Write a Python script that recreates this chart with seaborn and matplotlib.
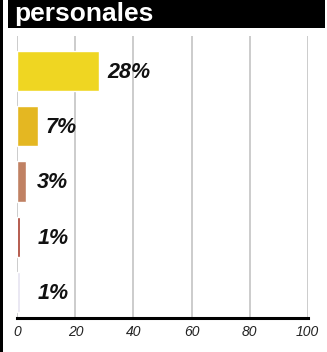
import matplotlib
matplotlib.use("Agg")
import matplotlib.pyplot as plt
import seaborn as sns
import pandas as pd
from matplotlib.patches import Rectangle
from matplotlib import font_manager as fm

categories = ["A", "B", "C", "D", "E"]
values = [28, 7, 3, 1, 1]
labels = ["28%", "7%", "3%", "1%", "1%"]
colors = ["#efd622", "#e4b722", "#c08163", "#a63a2a", "#e5e3f1"]
xticks = [0, 20, 40, 60, 80, 100]
title = "personales"

sns.set_theme(style="white")
names = {f.name for f in fm.fontManager.ttflist}
narrow = "Liberation Sans Narrow" if "Liberation Sans Narrow" in names else "Liberation Sans"
plt.rcParams["font.family"] = [narrow, "DejaVu Sans"]

df = pd.DataFrame({"cat": categories, "val": values})

fig = plt.figure(figsize=(3.27, 3.52), dpi=100)
ax = fig.add_axes([0.053, 0.0966, 0.888, 0.8014])
sns.barplot(data=df, y="cat", x="val", hue="cat", palette=colors, legend=False,
            width=0.727, ax=ax, saturation=1)

ax.set_xlim(0, 100)
ax.set_ylim(4.47, -0.636)
ax.set_xticks(xticks)
ax.set_xticklabels([str(t) for t in xticks], fontstyle="italic", fontsize=10, color="#222222")
ax.set_yticks([])
ax.set_xlabel("")
ax.set_ylabel("")
ax.tick_params(axis="x", length=0, pad=5)
for t in xticks:
    ax.axvline(t, color="#c8c8c8", lw=1.3, zorder=0)
for s in ["top", "right", "left"]:
    ax.spines[s].set_visible(False)
ax.spines["bottom"].set_color("black")
ax.spines["bottom"].set_linewidth(2.2)

for i, (v, lab) in enumerate(zip(values, labels)):
    ax.annotate(lab, xy=(max(v, 4), i), xytext=(6, -1), textcoords="offset points",
                ha="left", va="center", fontsize=15.5, fontweight="bold",
                fontstyle="italic", color="#111111")

# title bar
fig.patches.append(Rectangle((8/327, 1 - 28/352), (325-8)/327, 28/352,
                             transform=fig.transFigure, facecolor="black",
                             edgecolor="none", zorder=5))
fig.text(14/327, 1 - 21/352, title, color="white", fontsize=19, fontweight="bold",
         ha="left", va="baseline", zorder=6)
# left border
fig.patches.append(Rectangle((0, 0), 2.5/327, 1, transform=fig.transFigure,
                             facecolor="black", edgecolor="none", zorder=5))

fig.savefig("out.png", dpi=100)
